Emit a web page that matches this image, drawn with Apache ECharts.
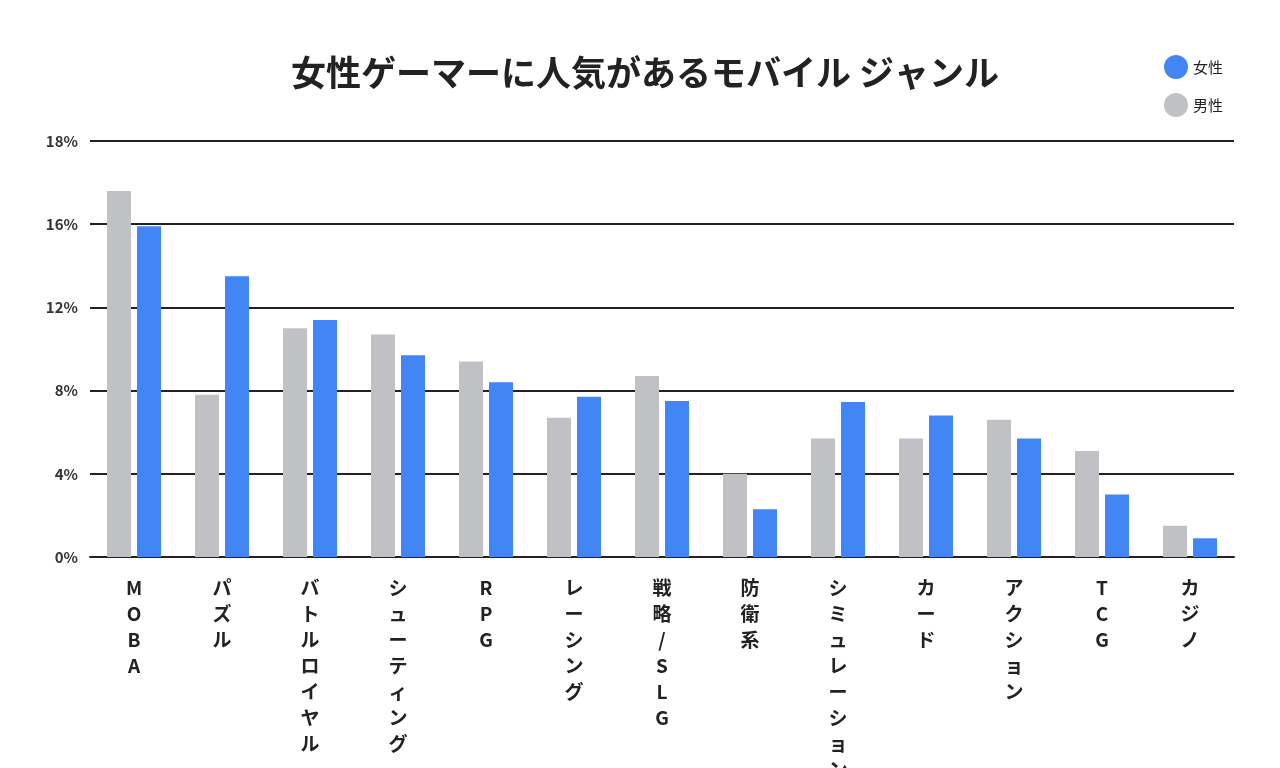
<!DOCTYPE html><html><head><meta charset="utf-8">
<script src="https://cdn.jsdelivr.net/npm/echarts@6/dist/echarts.min.js"></script>
<style>html,body{margin:0;background:#fff}#c{width:1280px;height:768px}</style></head><body><div id="c"></div>
<script>
const categories=["MOBA","パズル","バトルロイヤル","シューティング","RPG","レーシング","戦略/SLG","防衛系","シミュレーション","カード","アクション","TCG","カジノ"];
const male=[17.6,7.8,11.0,10.7,9.4,6.7,8.7,4.0,5.7,5.7,6.6,5.1,1.5];
const female=[15.9,13.5,11.4,9.7,8.4,7.7,7.5,2.3,7.45,6.8,5.7,3.0,0.9];
const yTickLabels={0:'0%',4:'4%',8:'8%',12:'12%',16:'16%',20:'18%'};
const ch=echarts.init(document.getElementById('c'));
const F='"Noto Sans CJK JP","Noto Sans",sans-serif';
ch.setOption({
 title:{text:'女性ゲーマーに人気があるモバイル ジャンル',left:640,top:50,textAlign:'center',textStyle:{fontFamily:F,fontSize:35,fontWeight:'bold',color:'#222'}},
 legend:{data:['女性','男性'],orient:'vertical',right:52,top:50,itemGap:14,icon:'circle',itemWidth:24,itemHeight:24,textStyle:{fontFamily:F,fontSize:15,color:'#222'}},
 grid:{left:90,right:46,top:141,bottom:211,outerBoundsMode:'none',containLabel:false},
 xAxis:{type:'category',data:categories,axisTick:{show:false},axisLine:{lineStyle:{color:'#222',width:2}},
  axisLabel:{interval:0,margin:18,fontFamily:F,fontSize:19,fontWeight:'bold',color:'#222',lineHeight:26,formatter:v=>v.split('').join('\n')}},
 yAxis:{type:'value',min:0,max:20,interval:4,
  axisLabel:{fontFamily:F,fontSize:15,fontWeight:'bold',color:'#333',margin:12,formatter:v=>yTickLabels[v]||''},
  splitLine:{lineStyle:{color:'#222',width:2}},
  axisLine:{show:false},axisTick:{show:false}},
 series:[
  {name:'男性',type:'bar',data:male,barWidth:24,barGap:'25%',itemStyle:{color:'#bfc1c5'}},
  {name:'女性',type:'bar',data:female,barWidth:24,itemStyle:{color:'#4285f4'}}
 ]
});
</script></body></html>
